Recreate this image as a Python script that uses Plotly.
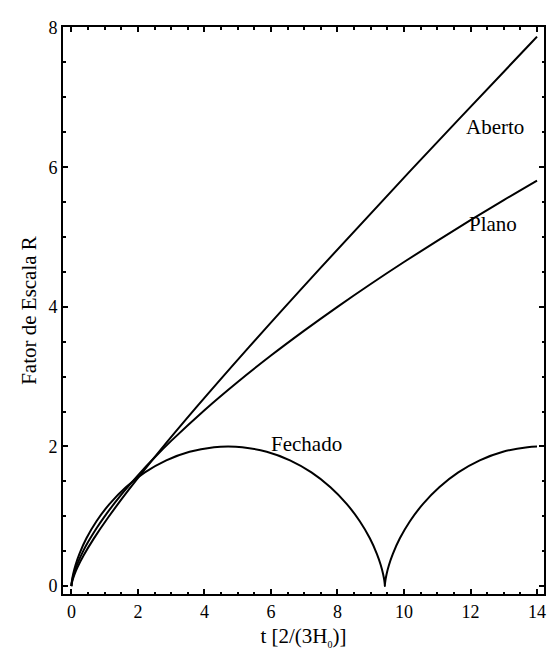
import plotly.graph_objects as go

# Flat (Plano)
flat_t = [0, 0.01, 0.03, 0.05, 0.1, 0.2, 0.35, 0.5, 0.75, 1, 1.5, 2, 2.5, 3, 4, 5, 6, 7, 8, 9, 10, 11, 12, 13, 14]
flat_R = [0, 0.046, 0.097, 0.136, 0.215, 0.342, 0.497, 0.630, 0.825, 1.0, 1.310, 1.587, 1.842, 2.080,
          2.520, 2.924, 3.302, 3.659, 4.000, 4.327, 4.642, 4.946, 5.241, 5.529, 5.809]

# Closed (Fechado)
closed_t = [0, 0.0020, 0.0159, 0.0530, 0.1240, 0.2378, 0.4515, 0.7538, 1.1490, 1.6361, 2.2079, 2.8523,
            3.5525, 4.2883, 4.7124, 5.1365, 5.8723, 6.5725, 7.2169, 7.7887, 8.2758, 8.6710, 8.9733,
            9.1870, 9.3008, 9.3718, 9.4089, 9.4228, 9.4248, 9.4268, 9.4407, 9.4778, 9.5488, 9.6626,
            9.8763, 10.1786, 10.5738, 11.0609, 11.6327, 12.2771, 12.9773, 13.7131, 14.0]
closed_R = [0, 0.0199, 0.0789, 0.1747, 0.3033, 0.4597, 0.6847, 0.9293, 1.1783, 1.4161, 1.6282, 1.8011,
            1.9243, 1.9900, 2.0, 1.9900, 1.9243, 1.8011, 1.6282, 1.4161, 1.1783, 0.9293, 0.6847,
            0.4597, 0.3033, 0.1747, 0.0789, 0.0199, 0, 0.0199, 0.0789, 0.1747, 0.3033, 0.4597,
            0.6847, 0.9293, 1.1783, 1.4161, 1.6282, 1.8011, 1.9243, 1.9900, 1.999]

# Open (Aberto)
open_t = [0, 0.0014, 0.0114, 0.0389, 0.0935, 0.1858, 0.3733, 0.6675, 1.1035, 1.7256, 2.5892, 3.7656,
          5.3450, 7.4436, 10.2097, 13.8338, 14.0]
open_R = [0, 0.0100, 0.0405, 0.0927, 0.1687, 0.2715, 0.4442, 0.6762, 0.9821, 1.3811, 1.8983, 2.5661,
          3.4266, 4.5338, 5.9573, 7.7864, 7.8695]

labels = ["Aberto", "Plano", "Fechado"]
label_x = [12.75, 12.67, 7.08]
label_y = [6.57, 5.19, 2.04]

x_ticks = [0, 2, 4, 6, 8, 10, 12, 14]
y_ticks = [0, 2, 4, 6, 8]

FONT = "Liberation Serif, Times New Roman, serif"

fig = go.Figure()
for xs, ys in [(open_t, open_R), (flat_t, flat_R), (closed_t, closed_R)]:
    fig.add_trace(go.Scatter(x=xs, y=ys, mode="lines",
                             line=dict(color="black", width=2, shape="spline", smoothing=1.0),
                             showlegend=False, hoverinfo="skip"))

for txt, lx, ly in zip(labels, label_x, label_y):
    fig.add_annotation(x=lx, y=ly, text=txt, showarrow=False,
                       font=dict(family=FONT, size=21, color="black"))

axis_common = dict(
    showgrid=False, zeroline=False, showline=True, linecolor="black", linewidth=2,
    mirror="allticks", ticks="inside", ticklen=5, tickwidth=1.5, tickcolor="black",
    tickfont=dict(family=FONT, size=18, color="black"),
)

fig.update_xaxes(range=[-0.253, 14.21], tickvals=x_ticks,
                 minor=dict(dtick=0.5, ticks="inside", ticklen=2.5, tickwidth=1.5, tickcolor="black"),
                 title=dict(text="t [2/(3H<sub><span style='font-size:10px'>0</span></sub>)]",
                            font=dict(family=FONT, size=21, color="black"), standoff=8),
                 **axis_common)
fig.update_yaxes(range=[-0.113, 8.008], tickvals=y_ticks,
                 minor=dict(dtick=0.5, ticks="inside", ticklen=2.5, tickwidth=1.5, tickcolor="black"),
                 title=dict(text="Fator de Escala R", font=dict(family=FONT, size=21, color="black"),
                            standoff=6),
                 **axis_common)

fig.update_layout(
    width=555, height=652,
    margin=dict(l=55, r=19, t=10, b=66),
    paper_bgcolor="white", plot_bgcolor="white",
)

fig.write_html("out.html")
